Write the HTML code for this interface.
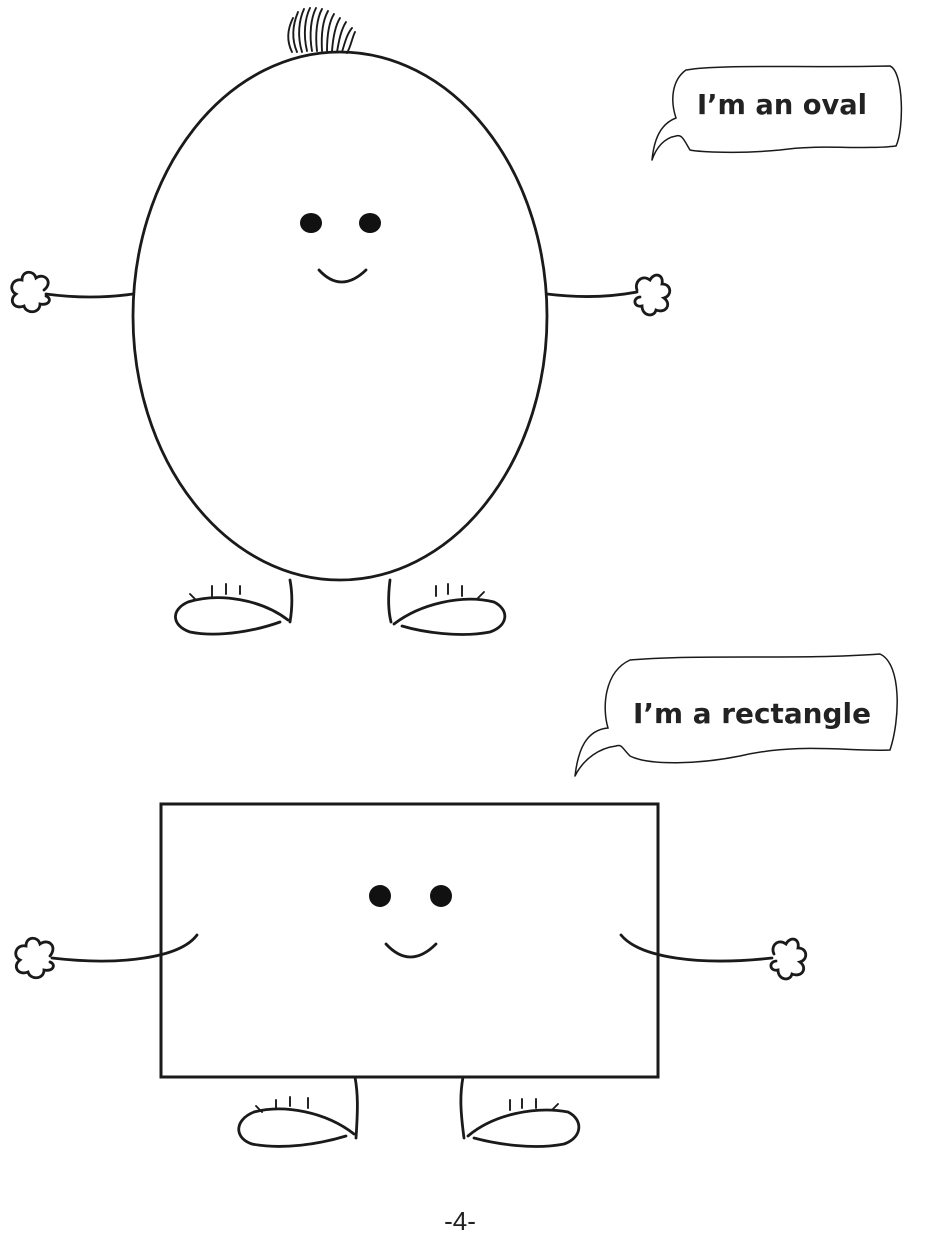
<!DOCTYPE html>
<html><head><meta charset="utf-8"><style>
html,body{margin:0;padding:0;background:#fff;}
svg{display:block}
text{font-family:"DejaVu Sans","Liberation Sans",sans-serif;fill:#222}
</style></head><body>
<svg width="947" height="1250" viewBox="0 0 947 1250" xmlns="http://www.w3.org/2000/svg">
<g fill="none" stroke="#1a1a1a" stroke-width="2.8" stroke-linecap="round">
<!-- hair -->
<path d="M292 52 C286 40 288 28 293 18" stroke-width="1.9"/>
<path d="M297 52 C291 38 293 24 298 12" stroke-width="1.9"/>
<path d="M302 52 C297 36 299 20 304 9" stroke-width="1.9"/>
<path d="M307 51 C303 34 305 18 310 8" stroke-width="1.9"/>
<path d="M312 51 C309 34 311 18 316 8" stroke-width="1.9"/>
<path d="M317 51 C315 34 317 18 322 9" stroke-width="1.9"/>
<path d="M322 51 C321 34 323 20 328 11" stroke-width="1.9"/>
<path d="M327 51 C327 36 329 22 334 14" stroke-width="1.9"/>
<path d="M332 51 C333 38 335 26 340 18" stroke-width="1.9"/>
<path d="M337 52 C339 40 341 30 346 22" stroke-width="1.9"/>
<path d="M342 52 C345 42 347 34 352 28" stroke-width="1.9"/>
<path d="M347 53 C351 46 352 38 355 32" stroke-width="1.9"/>
<!-- oval body -->
<ellipse cx="340" cy="316" rx="207" ry="264"/>
<path d="M319 270 Q341 294 366 270"/>
<!-- arms -->
<path d="M133 294 Q90 300 46 294"/>
<path d="M547 294 Q595 300 637 292"/>
<!-- hands -->
<path d="M44 290 C54 282 44 272 36 278 C34 270 22 270 22 280 C12 278 8 290 16 294 C8 300 14 310 24 306 C26 314 40 314 40 304 C50 306 52 298 46 296"/>
<path d="M637 290 C634 282 642 274 650 280 C654 272 664 274 662 284 C672 284 672 296 664 298 C672 304 666 314 656 310 C654 318 642 316 642 306 C634 308 632 298 640 297"/>
<!-- legs & feet -->
<path d="M290 580 C293 596 292 610 290 622"/>
<path d="M390 580 C388 596 388 610 391 622"/>
<path d="M288 620 C262 600 220 592 188 602 C170 610 172 626 190 632 C220 638 258 630 280 622"/>
<path d="M394 624 C420 604 462 594 494 602 C510 610 508 626 490 632 C460 638 422 632 402 626"/>
<path d="M196 600 L190 594 M212 596 L212 586 M226 594 L226 584 M240 594 L240 586" stroke-width="1.9"/>
<path d="M436 596 L436 586 M448 594 L448 584 M462 596 L462 586 M478 598 L484 592" stroke-width="1.9"/>
<!-- rectangle body -->
<rect x="161" y="804" width="497" height="273" stroke-width="3"/>
<path d="M386 944 Q410 970 436 944"/>
<path d="M197 935 C180 958 120 966 52 958"/>
<path d="M621 935 C640 958 700 966 772 958"/>
<path d="M50 956 C58 946 48 938 40 944 C38 936 26 936 26 946 C16 944 12 956 20 960 C12 966 18 976 28 972 C30 980 44 980 44 970 C54 972 56 964 50 962"/>
<path d="M774 954 C770 946 778 938 786 944 C790 936 800 938 798 948 C808 948 808 960 800 962 C808 968 802 978 792 974 C790 982 778 980 778 970 C770 972 768 962 776 961"/>
<path d="M355 1077 C358 1094 358 1108 356 1138"/>
<path d="M463 1077 C460 1094 460 1108 464 1138"/>
<path d="M354 1134 C326 1112 284 1104 254 1112 C234 1120 234 1138 252 1144 C282 1150 320 1144 346 1136"/>
<path d="M468 1136 C494 1114 536 1106 568 1112 C584 1120 582 1138 564 1144 C534 1150 496 1144 474 1138"/>
<path d="M262 1112 L256 1106 M276 1108 L276 1100 M290 1106 L290 1097 M308 1108 L308 1098" stroke-width="1.9"/>
<path d="M510 1110 L510 1100 M522 1108 L522 1099 M536 1108 L536 1099 M552 1110 L558 1104" stroke-width="1.9"/>
<!-- bubbles -->
<path d="M652 160 C654 140 660 124 676 118 C670 100 672 80 686 70 C720 64 800 68 890 66 C904 72 904 130 896 146 C860 150 820 144 780 150 C740 154 700 152 690 150 C684 140 682 134 676 136 C664 138 656 148 652 160" stroke-width="1.5"/>
<path d="M575 776 C578 750 586 730 608 728 C602 708 604 672 630 660 C700 654 800 660 880 654 C902 664 900 720 890 750 C850 752 800 742 740 756 C700 764 650 766 630 756 C622 748 622 744 616 746 C600 748 584 758 575 776" stroke-width="1.5"/>
</g>
<g fill="#111">
<ellipse cx="311" cy="223" rx="11" ry="10"/>
<ellipse cx="370" cy="223" rx="11" ry="10"/>
<ellipse cx="380" cy="896" rx="11" ry="11"/>
<ellipse cx="441" cy="896" rx="11" ry="11"/>
</g>
<text x="697" y="114" font-size="28" textLength="170" lengthAdjust="spacingAndGlyphs" font-weight="bold" style="font-weight:600">I’m an oval</text>
<text x="633" y="723" font-size="28" textLength="238" lengthAdjust="spacingAndGlyphs" style="font-weight:600">I’m a rectangle</text>
<text x="460" y="1230" font-size="26" text-anchor="middle" style="font-family:'Liberation Sans',sans-serif">-4-</text>
</svg>
</body></html>
